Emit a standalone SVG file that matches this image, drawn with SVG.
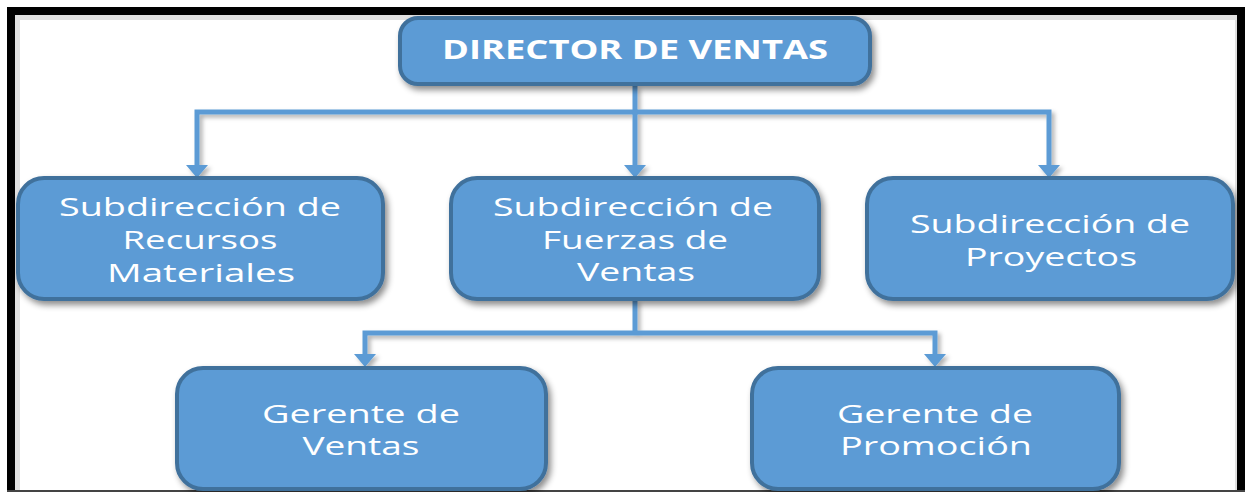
<svg xmlns="http://www.w3.org/2000/svg" width="1250" height="492" viewBox="0 0 1250 492">
<defs>
<filter id="sh" x="-10%" y="-10%" width="130%" height="140%">
<feDropShadow dx="3" dy="4" stdDeviation="3" flood-color="#000" flood-opacity="0.45"/>
</filter>
<filter id="lsh" x="-20%" y="-20%" width="140%" height="140%">
<feDropShadow dx="3" dy="3" stdDeviation="2" flood-color="#000" flood-opacity="0.3"/>
</filter>
</defs>
<style>
.box{fill:#5B9BD5;stroke:#41719C;stroke-width:4;filter:url(#sh)}
.t{font-family:"Open Sans","DejaVu Sans",sans-serif;font-size:25px;fill:#fff;text-anchor:middle}
.tb{font-family:"Open Sans","DejaVu Sans",sans-serif;font-size:26px;font-weight:bold;fill:#fff;text-anchor:middle}
.c{fill:none;stroke:#5B9BD5;stroke-width:5}
</style>
<rect x="0" y="0" width="1250" height="492" fill="#fff"/>
<g id="frame">
<rect x="15" y="15" width="1221" height="480" fill="none" stroke="#000" stroke-opacity="0.12" stroke-width="6" transform="translate(2,2)"/>
<path d="M11,495 L11,11 L1241,11 L1241,495" fill="none" stroke="#000" stroke-width="8"/>
<line x1="7" y1="491" x2="1245" y2="491" stroke="#444" stroke-width="2"/>
</g>
<g id="connectors" filter="url(#lsh)">
<path class="c" d="M635,86 L635,112"/>
<path class="c" d="M197,166 L197,112 L1049,112 L1049,166"/>
<path class="c" d="M635,112 L635,166"/>
<path class="c" d="M635,300 L635,333"/>
<path class="c" d="M365,356 L365,333 L935,333 L935,356"/>
<path d="M186,165 L208,165 L197,178 Z M624,165 L646,165 L635,178 Z M1038,165 L1060,165 L1049,178 Z M354,354 L376,354 L365,367 Z M924,354 L946,354 L935,367 Z" fill="#5B9BD5"/>
</g>
<g id="director">
<rect class="box" x="400" y="18" width="470" height="66" rx="18"/>
<text class="tb" x="635" y="59" textLength="386" lengthAdjust="spacingAndGlyphs">DIRECTOR DE VENTAS</text>
</g>
<g id="sub-recursos">
<rect class="box" x="18" y="178" width="365" height="121" rx="26"/>
<text class="t" x="200" y="216" textLength="282" lengthAdjust="spacingAndGlyphs">Subdirección de</text>
<text class="t" x="200" y="249" textLength="155" lengthAdjust="spacingAndGlyphs">Recursos</text>
<text class="t" x="201" y="282" textLength="188" lengthAdjust="spacingAndGlyphs">Materiales</text>
</g>
<g id="sub-fuerzas">
<rect class="box" x="451" y="178" width="368" height="121" rx="26"/>
<text class="t" x="633" y="216" textLength="280" lengthAdjust="spacingAndGlyphs">Subdirección de</text>
<text class="t" x="635" y="249" textLength="186" lengthAdjust="spacingAndGlyphs">Fuerzas de</text>
<text class="t" x="636" y="281" textLength="118" lengthAdjust="spacingAndGlyphs">Ventas</text>
</g>
<g id="sub-proyectos">
<rect class="box" x="867" y="178" width="366" height="121" rx="26"/>
<text class="t" x="1050" y="233" textLength="280" lengthAdjust="spacingAndGlyphs">Subdirección de</text>
<text class="t" x="1051" y="266" textLength="172" lengthAdjust="spacingAndGlyphs">Proyectos</text>
</g>
<g id="gerente-ventas">
<rect class="box" x="177" y="368" width="369" height="121" rx="26"/>
<text class="t" x="361" y="423" textLength="198" lengthAdjust="spacingAndGlyphs">Gerente de</text>
<text class="t" x="361" y="455" textLength="117" lengthAdjust="spacingAndGlyphs">Ventas</text>
</g>
<g id="gerente-promocion">
<rect class="box" x="752" y="368" width="367" height="121" rx="26"/>
<text class="t" x="935" y="423" textLength="196" lengthAdjust="spacingAndGlyphs">Gerente de</text>
<text class="t" x="936" y="455" textLength="192" lengthAdjust="spacingAndGlyphs">Promoción</text>
</g>
</svg>
